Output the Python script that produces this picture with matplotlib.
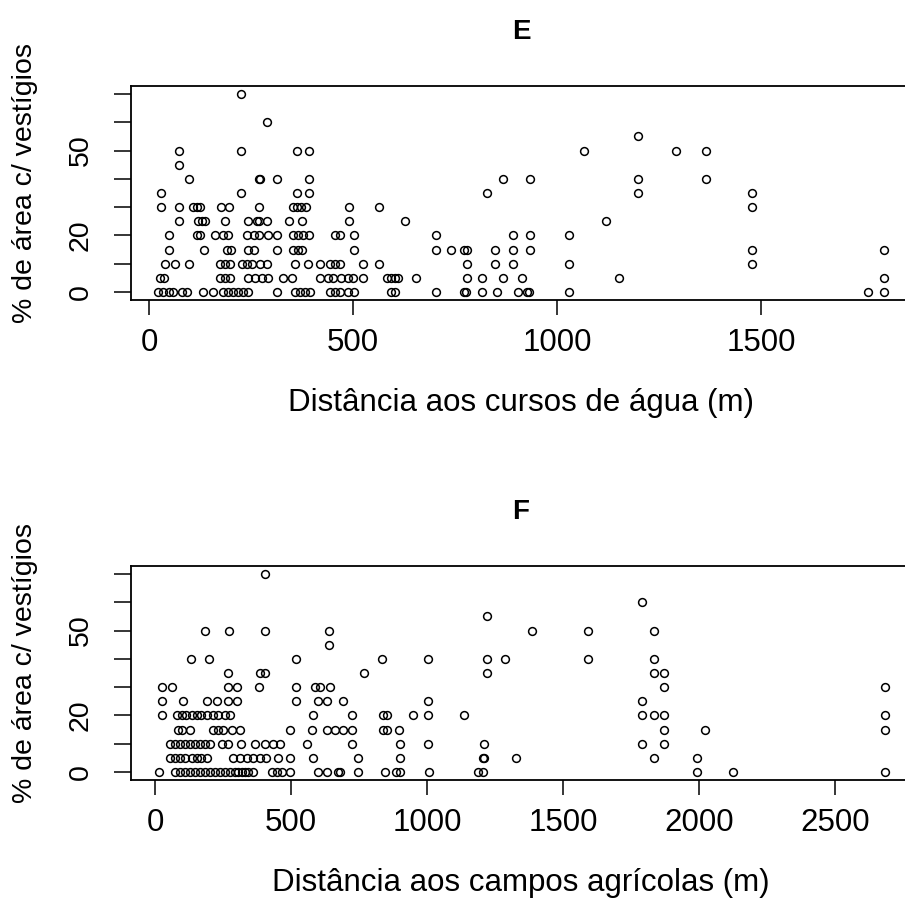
import matplotlib
matplotlib.use("Agg")

import matplotlib.pyplot as plt

plt.rcParams['font.family'] = ['Liberation Sans', 'DejaVu Sans']

# Distância aos cursos de água (m) vs % de área com vestígios, grouped by % level
agua_0 = [22, 34, 47, 59, 79, 93, 132, 157, 181, 194, 206, 218, 230, 243, 314, 357, 369, 381, 394,
          443, 455, 467, 488, 501, 592, 602, 702, 772, 776, 815, 852, 903, 926, 931, 1029, 1762, 1801]
agua_5 = [26, 36, 173, 186, 198, 243, 260, 275, 292, 328, 349, 418, 437, 450, 471, 488, 500, 524,
          582, 592, 602, 610, 653, 778, 815, 868, 913, 1152, 1801]
agua_10 = [38, 63, 97, 173, 186, 198, 226, 239, 251, 271, 288, 357, 390, 418, 443, 455, 467, 524,
           564, 778, 847, 892, 1029, 1478]
agua_15 = [48, 134, 190, 200, 243, 257, 314, 351, 365, 374, 502, 702, 739, 772, 780, 847, 892, 933,
           1478, 1801]
agua_20 = [48, 116, 124, 161, 181, 194, 239, 257, 270, 292, 312, 351, 365, 377, 392, 455, 467, 502,
           702, 892, 933, 1029]
agua_25 = [73, 120, 128, 137, 186, 241, 265, 268, 288, 342, 374, 490, 628, 1119]
agua_30 = [29, 73, 108, 116, 124, 175, 196, 270, 351, 362, 373, 384, 490, 564, 1478]
agua_35 = [29, 225, 361, 392, 827, 1199, 1478]
agua_40 = [97, 268, 271, 314, 392, 868, 933, 1199, 1364]
agua_45 = [73]
agua_50 = [73, 225, 361, 392, 1065, 1291, 1364]
agua_55 = [1199]
agua_60 = [289]
agua_70 = [225]

# Distância aos campos agrícolas (m) vs % de área com vestígios
campos_0 = [16, 74, 92, 110, 129, 147, 165, 184, 202, 221, 239, 257, 276, 294, 306, 319, 331, 343,
            361, 429, 447, 466, 496, 600, 631, 674, 680, 747, 846, 886, 901, 1008, 1189, 1207, 1991,
            2124, 2684]
campos_5 = [55, 74, 92, 110, 135, 153, 171, 190, 288, 312, 337, 361, 386, 410, 453, 496, 582, 747,
            899, 1205, 1210, 1326, 1835, 1991]
campos_10 = [55, 74, 92, 110, 129, 147, 165, 184, 202, 245, 270, 318, 368, 404, 435, 460, 558, 723,
             899, 1003, 1210, 1789, 1871]
campos_15 = [86, 101, 129, 214, 232, 251, 282, 312, 496, 576, 631, 662, 692, 723, 839, 853, 897,
             1871, 2020, 2684]
campos_20 = [25, 82, 98, 114, 135, 153, 171, 190, 214, 232, 257, 276, 582, 723, 839, 853, 950,
             1003, 1136, 1789, 1835, 1871, 2684]
campos_25 = [25, 104, 190, 227, 270, 302, 517, 600, 631, 692, 1003, 1789]
campos_30 = [25, 61, 270, 302, 383, 517, 588, 607, 643, 1871, 2684]
campos_35 = [270, 386, 404, 770, 1222, 1835, 1871]
campos_40 = [131, 200, 517, 833, 1003, 1222, 1287, 1591, 1835]
campos_45 = [640]
campos_50 = [184, 273, 404, 640, 1385, 1591, 1835]
campos_55 = [1222]
campos_60 = [1789]
campos_70 = [404]

levels = [0, 5, 10, 15, 20, 25, 30, 35, 40, 45, 50, 55, 60, 70]
agua_groups = [agua_0, agua_5, agua_10, agua_15, agua_20, agua_25, agua_30, agua_35,
               agua_40, agua_45, agua_50, agua_55, agua_60, agua_70]
campos_groups = [campos_0, campos_5, campos_10, campos_15, campos_20, campos_25, campos_30,
                 campos_35, campos_40, campos_45, campos_50, campos_55, campos_60, campos_70]

y_ticks = [0, 10, 20, 30, 40, 50, 60, 70]
y_ticklabels = ['0', '', '20', '', '', '50', '', '']

W, H = 905, 898


def flatten(groups):
    xs, ys = [], []
    for lvl, g in zip(levels, groups):
        xs += g
        ys += [lvl] * len(g)
    return xs, ys


def panel(fig, top_px, right_px, xlim, xticks, groups, title, xlabel):
    left_px = 131
    ax = fig.add_axes([left_px / W, 1 - (top_px + 214) / H,
                       (right_px - left_px) / W, 214 / H])
    xs, ys = flatten(groups)
    ax.plot(xs, ys, 'o', mfc='none', mec='black', ms=5.6, mew=1.1)
    ax.set_xlim(*xlim)
    ax.set_ylim(-2.8, 72.8)
    ax.set_xticks(xticks)
    ax.set_xticklabels([str(t) for t in xticks])
    ax.set_yticks(y_ticks)
    ax.set_yticklabels(y_ticklabels)
    for s in ax.spines.values():
        s.set_linewidth(1.3)
    ax.tick_params(axis='x', direction='out', length=11, width=1.1, pad=9.5, labelsize=22.5)
    ax.tick_params(axis='y', direction='out', length=12, width=1.1, pad=24, labelsize=20.5)
    for lab in ax.get_yticklabels():
        lab.set_rotation(90)
        lab.set_ha('center')
        lab.set_va('center')

    fig.text(521 / W, 1 - (top_px - 47) / H, title, ha='center', va='baseline',
             fontsize=20, fontweight='bold')
    fig.text(521 / W, 1 - (top_px + 325) / H, xlabel, ha='center', va='baseline',
             fontsize=22.5)
    fig.text(25 / W, 1 - (top_px + 97) / H, '% de área c/ vestígios', ha='center',
             va='center', rotation=90, fontsize=20.5)
    return ax


fig = plt.figure(figsize=(W / 100, H / 100), dpi=100)

panel(fig, 86, 912, (-45, 1870), [0, 500, 1000, 1500], agua_groups,
      'E', 'Distância aos cursos de água (m)')
panel(fig, 566, 914, (-88, 2790), [0, 500, 1000, 1500, 2000, 2500], campos_groups,
      'F', 'Distância aos campos agrícolas (m)')

fig.savefig('out.png', dpi=100)
